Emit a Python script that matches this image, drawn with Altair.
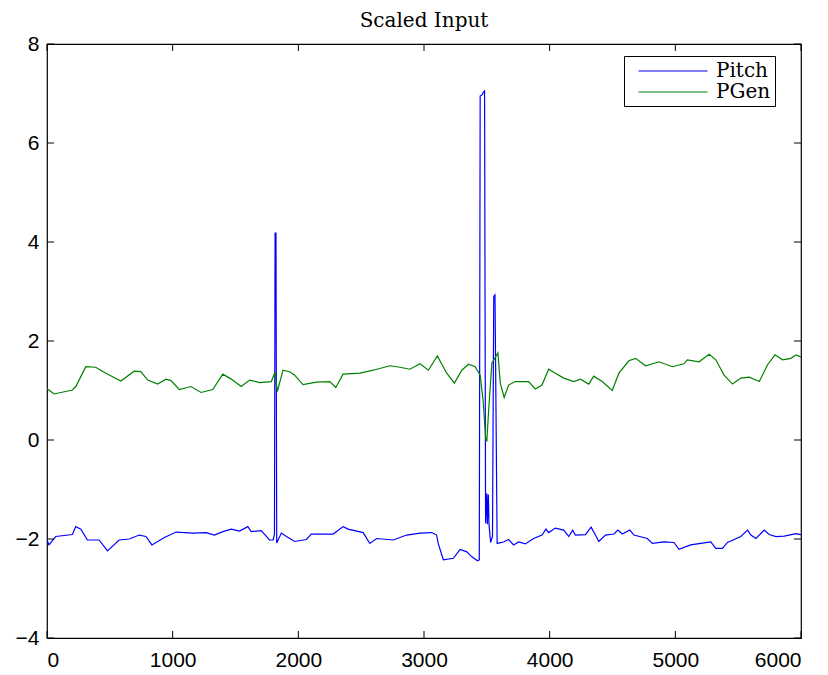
import altair as alt
import pandas as pd

pitch_x = [0, 16, 69, 202, 229, 269, 322, 415, 481, 574, 654, 734, 787, 835, 934, 1027, 1160, 1266,
           1332, 1399, 1466, 1532, 1598, 1625, 1705, 1771, 1800, 1810, 1815, 1822, 1828, 1865, 1905,
           1971, 2064, 2104, 2277, 2356, 2396, 2516, 2569, 2623, 2755, 2862, 2968, 3061, 3100, 3114,
           3154, 3234, 3287, 3341, 3381, 3425, 3440, 3447, 3465, 3470, 3482, 3490, 3500, 3504, 3512,
           3517, 3530, 3545, 3555, 3565, 3582, 3633, 3673, 3713, 3753, 3806, 3872, 3939, 3971, 3992,
           4045, 4112, 4152, 4183, 4205, 4285, 4330, 4364, 4391, 4444, 4511, 4543, 4578, 4638, 4670,
           4777, 4817, 4910, 4989, 5029, 5122, 5202, 5282, 5322, 5375, 5415, 5521, 5575, 5601, 5641,
           5707, 5747, 5801, 5867, 5960, 6000]
pitch_y = [-2.02, -2.12, -1.95, -1.91, -1.75, -1.80, -2.02, -2.02, -2.24, -2.02, -2.00, -1.92, -1.95,
           -2.12, -1.97, -1.86, -1.88, -1.87, -1.92, -1.85, -1.80, -1.84, -1.75, -1.85, -1.83, -2.02,
           -2.02, -1.90, 4.18, 4.18, -2.08, -1.88, -1.95, -2.05, -2.01, -1.90, -1.90, -1.75, -1.80,
           -1.87, -2.09, -1.99, -2.02, -1.92, -1.88, -1.87, -1.92, -2.10, -2.42, -2.39, -2.21, -2.26,
           -2.36, -2.44, -2.42, 6.95, 6.98, 7.02, 7.05, -1.68, -1.08, -1.70, -1.10, -1.70, -2.07,
           -1.95, 2.90, 2.93, -2.09, -2.06, -2.01, -2.12, -2.06, -2.10, -1.99, -1.92, -1.80, -1.87,
           -1.78, -1.82, -1.95, -1.82, -1.92, -1.91, -1.76, -1.92, -2.05, -1.92, -1.90, -1.82, -1.90,
           -1.82, -1.92, -1.99, -2.09, -2.06, -2.07, -2.21, -2.12, -2.09, -2.06, -2.19, -2.19, -2.07,
           -1.95, -1.82, -1.92, -1.99, -1.82, -1.91, -1.95, -1.94, -1.89, -1.91]

pgen_x = [0, 20, 56, 202, 229, 309, 388, 468, 588, 694, 747, 801, 880, 947, 987, 1053, 1146, 1226,
          1319, 1399, 1466, 1545, 1612, 1692, 1785, 1814, 1833, 1878, 1931, 1971, 2037, 2144, 2250,
          2298, 2356, 2489, 2596, 2729, 2809, 2888, 2968, 3035, 3106, 3181, 3242, 3301, 3354, 3407,
          3447, 3470, 3492, 3500, 3513, 3540, 3588, 3607, 3638, 3673, 3726, 3832, 3886, 3939, 3992,
          4045, 4112, 4191, 4245, 4311, 4351, 4418, 4498, 4551, 4630, 4684, 4763, 4870, 4976, 5069,
          5096, 5189, 5269, 5322, 5388, 5455, 5521, 5588, 5668, 5734, 5793, 5854, 5920, 5960, 6000]
pgen_y = [1.04, 1.00, 0.93, 1.01, 1.08, 1.48, 1.47, 1.35, 1.19, 1.39, 1.38, 1.21, 1.13, 1.23, 1.20,
          1.02, 1.08, 0.96, 1.02, 1.33, 1.23, 1.08, 1.21, 1.16, 1.18, 1.37, 0.98, 1.41, 1.38, 1.31,
          1.12, 1.17, 1.18, 1.06, 1.33, 1.35, 1.41, 1.50, 1.47, 1.43, 1.54, 1.41, 1.70, 1.35, 1.15,
          1.41, 1.53, 1.48, 1.31, 0.80, 0.00, -0.02, 0.54, 1.55, 1.76, 1.15, 0.86, 1.11, 1.18, 1.18,
          1.03, 1.11, 1.43, 1.35, 1.25, 1.18, 1.23, 1.13, 1.29, 1.18, 1.00, 1.35, 1.60, 1.65, 1.50,
          1.58, 1.48, 1.54, 1.62, 1.58, 1.73, 1.62, 1.31, 1.13, 1.25, 1.27, 1.18, 1.52, 1.72, 1.62,
          1.65, 1.72, 1.68]

series_names = ["Pitch", "PGen"]
series_colors = ["#0000ff", "#008000"]
x_ticks = [0, 1000, 2000, 3000, 4000, 5000, 6000]
y_ticks = [-4, -2, 0, 2, 4, 6, 8]

W, H = 754, 594

df = pd.concat([
    pd.DataFrame({"x": pitch_x, "y": pitch_y, "series": "Pitch", "o": range(len(pitch_x))}),
    pd.DataFrame({"x": pgen_x, "y": pgen_y, "series": "PGen", "o": range(len(pgen_x))}),
])

xscale = alt.Scale(domain=[0, 6000], nice=False, zero=False)
yscale = alt.Scale(domain=[-4, 8], nice=False, zero=False)
xaxis = alt.Axis(values=x_ticks, format="d", labelPadding=11, title=None)
yaxis = alt.Axis(values=y_ticks, format="d", labelPadding=8, title=None)

lines = alt.Chart(df).mark_line(strokeWidth=1.2, clip=True).encode(
    x=alt.X("x:Q", scale=xscale, axis=xaxis),
    y=alt.Y("y:Q", scale=yscale, axis=yaxis),
    color=alt.Color("series:N", scale=alt.Scale(domain=series_names, range=series_colors),
                    sort=series_names,
                    legend=alt.Legend(title=None, orient="none", legendX=577, legendY=12,
                                      strokeColor="black", fillColor="white", padding=4,
                                      cornerRadius=0, symbolType="M-0.05,0H6.85", symbolSize=400,
                                      symbolStrokeWidth=1.2, labelFont="DejaVu Serif",
                                      labelFontSize=20, labelColor="black", labelOffset=66,
                                      rowPadding=0)),
    order="o:Q",
)

xt = pd.DataFrame({"x": x_ticks})
yt = pd.DataFrame({"y": y_ticks})

xb = alt.Chart(xt).mark_rule(color="black", strokeWidth=1).encode(
    x=alt.X("x:Q", scale=xscale, axis=xaxis), y=alt.value(H), y2=alt.value(H - 7))
xtop = alt.Chart(xt).mark_rule(color="black", strokeWidth=1).encode(
    x=alt.X("x:Q", scale=xscale, axis=xaxis), y=alt.value(0), y2=alt.value(7))
yl = alt.Chart(yt).mark_rule(color="black", strokeWidth=1).encode(
    y=alt.Y("y:Q", scale=yscale, axis=yaxis), x=alt.value(0), x2=alt.value(7))
yr = alt.Chart(yt).mark_rule(color="black", strokeWidth=1).encode(
    y=alt.Y("y:Q", scale=yscale, axis=yaxis), x=alt.value(W - 7), x2=alt.value(W))

chart = alt.layer(lines, xb, xtop, yl, yr).properties(
    width=W, height=H,
    title=alt.TitleParams("Scaled Input", font="DejaVu Serif", fontSize=20, fontWeight="normal",
                          color="black", anchor="middle", frame="group", baseline="alphabetic",
                          offset=18, dy=32),
    autosize=alt.AutoSizeParams(type="none"),
    padding={"left": 39, "top": 36, "right": 18, "bottom": 36},
).configure_view(stroke="black", strokeWidth=1.2).configure_axis(
    domain=False, ticks=False, grid=False, labelFont="Liberation Sans", labelFontSize=21,
    labelColor="black"
)

chart.save("out.html", embed_options={"renderer": "svg", "actions": False})
